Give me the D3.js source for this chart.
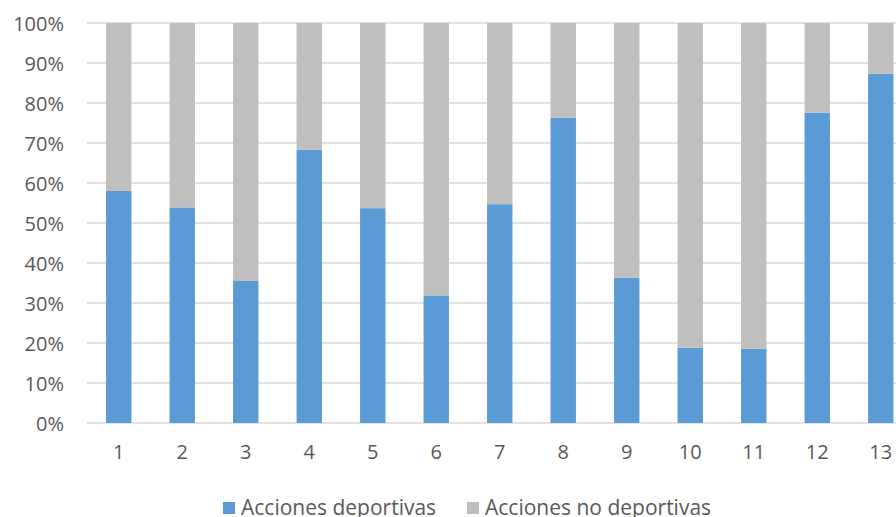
<!DOCTYPE html>
<html>
<head>
<meta charset="utf-8">
<script src="https://cdn.jsdelivr.net/npm/d3@7"></script>
<style>
  html, body { margin: 0; padding: 0; background: #fff; }
  svg { display: block; }
  text { font-family: "Open Sans", "Liberation Sans", sans-serif; fill: #595959; }
</style>
</head>
<body>
<svg id="chart" width="896" height="517"></svg>
<script>
// Share of sporting vs non-sporting actions per case (fractions of 1)
const categories = ["1", "2", "3", "4", "5", "6", "7", "8", "9", "10", "11", "12", "13"];
const deportivas = [0.580, 0.539, 0.355, 0.683, 0.537, 0.319, 0.547, 0.763, 0.363, 0.188, 0.186, 0.776, 0.873];
const noDeportivas = deportivas.map(v => 1 - v);
const seriesNames = ["Acciones deportivas", "Acciones no deportivas"];
const seriesColors = ["#5b9bd5", "#bfbfbf"];
const yTicks = [0, 0.1, 0.2, 0.3, 0.4, 0.5, 0.6, 0.7, 0.8, 0.9, 1.0];

const rows = categories.map((c, i) => ({
  cat: c,
  [seriesNames[0]]: deportivas[i],
  [seriesNames[1]]: noDeportivas[i]
}));

const svg = d3.select("#chart");
const W = 896;

const x = d3.scaleBand()
  .domain(categories)
  .range([87, 912.5])
  .paddingInner(0.6)
  .paddingOuter(0.3);

const y = d3.scaleLinear().domain([0, 1]).range([423, 23]);

// Horizontal gridlines
svg.append("g")
  .selectAll("line")
  .data(yTicks)
  .join("line")
  .attr("x1", 87)
  .attr("x2", W)
  .attr("y1", d => y(d))
  .attr("y2", d => y(d))
  .attr("stroke", "#d9d9d9")
  .attr("stroke-width", 1.3);

// Y axis labels
const yAxis = d3.axisLeft(y)
  .tickValues(yTicks)
  .tickFormat(d3.format(".0%"))
  .tickSize(0)
  .tickPadding(0);

svg.append("g")
  .attr("transform", "translate(64,0)")
  .call(yAxis)
  .call(g => g.select(".domain").remove())
  .call(g => g.selectAll("text")
    .attr("font-size", 20)
    .attr("dy", "0.36em")
    .style("font-family", "'Open Sans', sans-serif")
    .attr("fill", "#595959"));

// Stacked bars
const stack = d3.stack().keys(seriesNames);
const layers = stack(rows);

svg.append("g")
  .selectAll("g")
  .data(layers)
  .join("g")
  .attr("fill", (d, i) => seriesColors[i])
  .selectAll("rect")
  .data(d => d)
  .join("rect")
  .attr("x", d => x(d.data.cat))
  .attr("width", x.bandwidth())
  .attr("y", d => y(d[1]))
  .attr("height", d => y(d[0]) - y(d[1]));

// X axis labels
const xAxis = d3.axisBottom(x).tickSize(0).tickPadding(0);
svg.append("g")
  .attr("transform", "translate(0,445)")
  .call(xAxis)
  .call(g => g.select(".domain").remove())
  .call(g => g.selectAll("text")
    .attr("font-size", 20)
    .attr("dy", "0.71em")
    .style("font-family", "'Open Sans', sans-serif")
    .attr("fill", "#595959"));

// Legend
const legendX = [223, 467];
const legend = svg.append("g")
  .selectAll("g")
  .data(seriesNames)
  .join("g")
  .attr("transform", (d, i) => `translate(${legendX[i]},502)`);

legend.append("rect")
  .attr("width", 12)
  .attr("height", 12)
  .attr("fill", (d, i) => seriesColors[i]);

legend.append("text")
  .attr("x", 18)
  .attr("y", 13)
  .attr("font-size", 21)
  .text(d => d);
</script>
</body>
</html>
